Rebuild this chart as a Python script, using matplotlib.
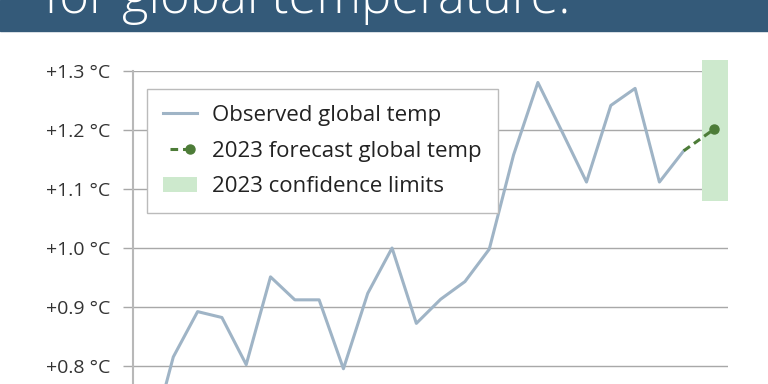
import matplotlib
matplotlib.use('Agg')
import matplotlib.pyplot as plt
from matplotlib.patches import Rectangle
from matplotlib.legend_handler import HandlerLine2D

plt.rcParams['font.family'] = ['Open Sans', 'DejaVu Sans']

# observed global temperature anomaly (degC)
years = [2000, 2001, 2002, 2003, 2004, 2005, 2006, 2007, 2008, 2009, 2010, 2011,
         2012, 2013, 2014, 2015, 2016, 2017, 2018, 2019, 2020, 2021, 2022]
observed = [0.66, 0.815, 0.892, 0.882, 0.802, 0.951, 0.912, 0.912, 0.795, 0.923,
            1.000, 0.872, 0.913, 0.943, 0.998, 1.158, 1.281, 1.197, 1.112, 1.242,
            1.271, 1.112, 1.165]

# 2023 forecast and its confidence limits
forecast_years = [2022, 2023.26]
forecast = [1.165, 1.202]
conf_years = [2022.75, 2023.81]
conf_limits = [1.08, 1.32]

yticks = [0.6, 0.7, 0.8, 0.9, 1.0, 1.1, 1.2, 1.3]
title = "for global temperature."

obs_color = '#9fb4c6'
fc_color = '#4d7c38'
band_color = '#cde9cd'
grid_color = '#a8a8a8'


class EndMarkerHandler(HandlerLine2D):
    # dashed line with the dot only at the right end
    def create_artists(self, *args, **kwargs):
        artists = super().create_artists(*args, **kwargs)
        for a in artists:
            a.set_markevery([len(a.get_xdata()) - 1])
        return artists


fig = plt.figure(figsize=(7.68, 3.84), dpi=100)

# banner
fig.patches.append(Rectangle((0, 1 - 31 / 384), 1, 31 / 384, transform=fig.transFigure,
                             color='#345a79', zorder=0))
fig.text(44 / 768, 1 - 13 / 384, title, color='white', fontsize=36.5, fontweight='light',
         va='baseline', ha='left')

ax = fig.add_axes([132.7 / 768, 1 - 483.6 / 384, 595 / 768, 412.3 / 384])
ax.set_xlim(1999.33, 2023.81)
ax.set_ylim(0.6, 1.3)

band = Rectangle((conf_years[0], conf_limits[0]), conf_years[1] - conf_years[0],
                 conf_limits[1] - conf_limits[0], color=band_color, lw=0, zorder=1,
                 clip_on=False, label='2023 confidence limits')
ax.add_patch(band)

obs_line, = ax.plot(years, observed, color=obs_color, lw=2.2, zorder=3,
                    label='Observed global temp')
fc_line, = ax.plot(forecast_years, forecast, color=fc_color, lw=2.2, ls=(0, (2.5, 1.6)),
                   marker='o', ms=6.5, markevery=[1], zorder=4,
                   label='2023 forecast global temp')

ax.set_yticks(yticks)
ax.set_yticklabels(['+%.1f °C' % v for v in yticks])
ax.set_xticks([])
ax.grid(axis='y', color=grid_color, lw=1)
ax.set_axisbelow(True)
for s in ['top', 'right', 'bottom']:
    ax.spines[s].set_visible(False)
ax.spines['left'].set_color('#b8b8b8')
ax.spines['left'].set_linewidth(1.5)
ax.tick_params(axis='y', length=7.2, width=1, color=grid_color, pad=9,
               labelsize=14, labelcolor='#333333')

leg = ax.legend(handles=[obs_line, fc_line, band], loc='upper left',
                bbox_to_anchor=(0.0245, 0.957), borderaxespad=0, fontsize=16,
                frameon=True, fancybox=False, framealpha=1, edgecolor='#bbbbbb',
                handlelength=1.5, handletextpad=0.7, borderpad=0.72, labelspacing=0.66,
                handler_map={fc_line: EndMarkerHandler(numpoints=4)})
leg.get_frame().set_linewidth(1)
for t in leg.get_texts():
    t.set_color('#222222')

fig.savefig('out.png', dpi=100)
